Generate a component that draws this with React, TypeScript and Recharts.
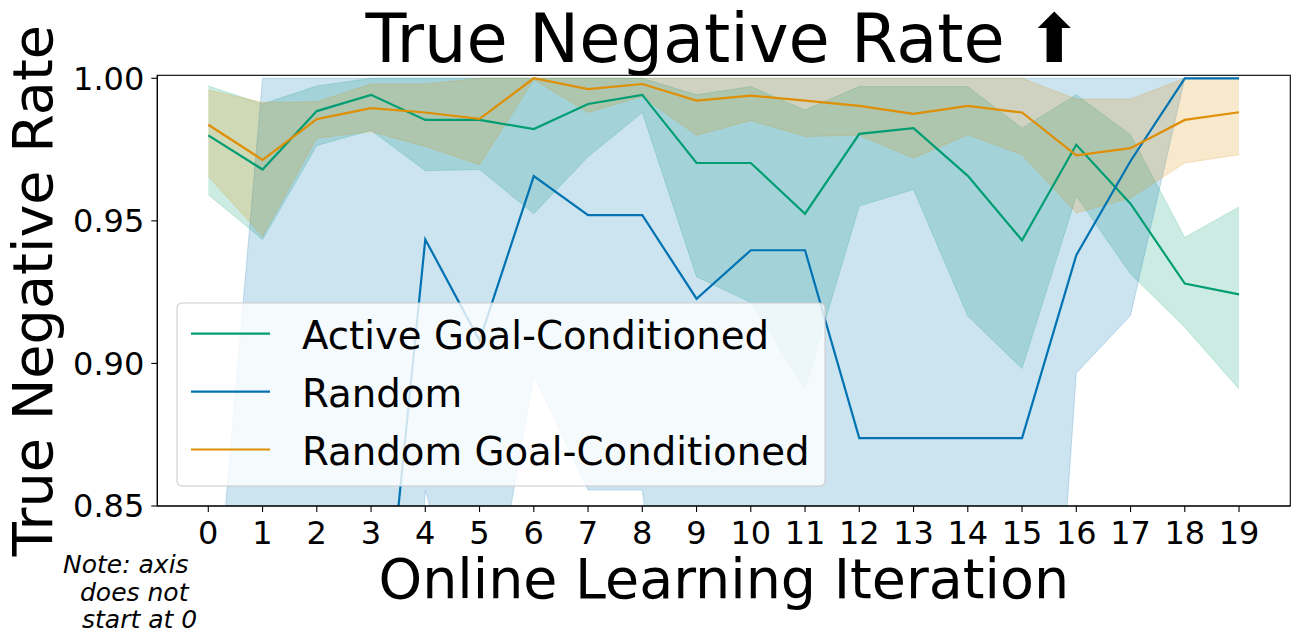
import { ComposedChart, Line, Area, XAxis, YAxis } from 'recharts';

// Online learning iterations (x categories)
const iterations = [0, 1, 2, 3, 4, 5, 6, 7, 8, 9, 10, 11, 12, 13, 14, 15, 16, 17, 18, 19];
const yTicks = [0.85, 0.9, 0.95, 1.0];

// Active Goal-Conditioned: mean and CI band
const activeMean = [0.98, 0.968, 0.9885, 0.9942, 0.9854, 0.9854, 0.9822, 0.991, 0.9942, 0.9703, 0.9703, 0.9525, 0.9805, 0.9825, 0.9658, 0.9432, 0.9767, 0.956, 0.928, 0.9242];
const activeLow = [0.9592, 0.9435, 0.9764, 0.9818, 0.9676, 0.968, 0.9525, 0.9725, 0.988, 0.9304, 0.9214, 0.8913, 0.9552, 0.961, 0.9166, 0.8982, 0.9587, 0.9314, 0.9127, 0.891];
const activeHigh = [0.9973, 0.991, 0.9973, 1.0, 1.0, 1.0, 1.0, 1.0, 1.0, 0.9942, 0.9971, 0.9889, 0.9971, 0.9971, 0.9971, 0.9825, 0.9942, 0.9802, 0.9442, 0.9549];

// Random: mean and CI band (early values sit below the visible range)
const randomMean = [0.62, 0.7, 0.72, 0.754, 0.9435, 0.908, 0.9657, 0.952, 0.952, 0.9227, 0.9397, 0.9397, 0.8738, 0.8738, 0.8738, 0.8738, 0.938, 0.971, 1.0, 1.0];
const randomLow = [0.45, 0.5, 0.55, 0.55, 0.8556, 0.787, 0.8958, 0.8556, 0.8556, 0.7, 0.72, 0.68, 0.6, 0.6, 0.6, 0.62, 0.8966, 0.9168, 1.0, 1.0];
const randomHigh = [0.78, 1.0, 1.0, 1.0, 1.0, 1.0, 1.0, 1.0, 1.0, 1.0, 1.0, 1.0, 1.0, 1.0, 1.0, 1.0, 1.0, 1.0, 1.0, 1.0];

// Random Goal-Conditioned: mean and CI band
const randomGCMean = [0.9837, 0.9714, 0.9857, 0.9895, 0.988, 0.9858, 1.0, 0.9962, 0.998, 0.9922, 0.9939, 0.9922, 0.9903, 0.9875, 0.9903, 0.988, 0.973, 0.9755, 0.9854, 0.9881];
const randomGCLow = [0.9656, 0.9446, 0.979, 0.9813, 0.9761, 0.9697, 0.9995, 0.988, 0.9936, 0.98, 0.9852, 0.9796, 0.98, 0.972, 0.9802, 0.9732, 0.9528, 0.958, 0.9703, 0.9732];
const randomGCHigh = [0.9959, 0.9915, 0.9918, 0.998, 0.998, 1.0, 1.0, 1.0, 1.0, 1.0, 1.0, 1.0, 1.0, 1.0, 1.0, 1.0, 0.9927, 0.9927, 1.0, 1.0];

const series = [
  { key: 'active', name: 'Active Goal-Conditioned', color: '#029E73', mean: activeMean, low: activeLow, high: activeHigh },
  { key: 'random', name: 'Random', color: '#0173B2', mean: randomMean, low: randomLow, high: randomHigh },
  { key: 'randomGC', name: 'Random Goal-Conditioned', color: '#DE8F05', mean: randomGCMean, low: randomGCLow, high: randomGCHigh },
];

const data = iterations.map((x, i) => {
  const row: Record<string, number | number[]> = { x };
  series.forEach((s) => {
    row[s.key] = s.mean[i];
    row[s.key + 'Band'] = [s.low[i], s.high[i]];
  });
  return row;
});

const W = 1299;
const H = 644;
// plot box, matplotlib-style
const PLOT = { left: 157.3, right: 1290.3, top: 75.3, bottom: 506 };
const FONT = '"DejaVu Sans", sans-serif';

export default function App() {
  const cx = (PLOT.left + PLOT.right) / 2;
  const cy = (PLOT.top + PLOT.bottom) / 2;
  const yAxisW = PLOT.left;
  const xAxisH = 40;

  return (
    <div style={{ position: 'absolute', left: 0, top: 0, width: W, height: H, background: '#fff' }}>
      <ComposedChart
        width={W}
        height={H}
        data={data}
        margin={{ top: PLOT.top, right: W - PLOT.right, bottom: H - PLOT.bottom - xAxisH, left: 0 }}
      >
        <XAxis
          dataKey="x"
          type="number"
          domain={[-0.94, 19.945]}
          ticks={iterations}
          interval={0}
          allowDataOverflow
          height={xAxisH}
          tickSize={6}
          tickMargin={9}
          axisLine={{ stroke: '#000', strokeWidth: 1.1 }}
          tickLine={{ stroke: '#000', strokeWidth: 1.1 }}
          tick={{ fill: '#000', fontSize: 32, fontFamily: FONT }}
        />
        <YAxis
          type="number"
          domain={[0.85, 1.00105]}
          ticks={yTicks}
          interval={0}
          allowDataOverflow
          width={yAxisW}
          tickSize={6}
          tickMargin={7}
          tickFormatter={(v: number) => v.toFixed(2)}
          axisLine={{ stroke: '#000', strokeWidth: 1.1 }}
          tickLine={{ stroke: '#000', strokeWidth: 1.1 }}
          tick={{ fill: '#000', fontSize: 32, fontFamily: FONT }}
        />
        {series.map((s) => (
          <Area
            key={s.key + 'Band'}
            type="linear"
            dataKey={s.key + 'Band'}
            fill={s.color}
            fillOpacity={0.2}
            stroke={s.color}
            strokeOpacity={0.2}
            strokeWidth={1}
            dot={false}
            activeDot={false}
            isAnimationActive={false}
          />
        ))}
        {series.map((s) => (
          <Line
            key={s.key}
            type="linear"
            dataKey={s.key}
            stroke={s.color}
            strokeWidth={2.2}
            dot={false}
            activeDot={false}
            isAnimationActive={false}
          />
        ))}
      </ComposedChart>

      <svg
        width={W}
        height={H}
        style={{ position: 'absolute', left: 0, top: 0, pointerEvents: 'none' }}
        fontFamily={FONT}
      >
        {/* box spines */}
        <rect
          x={PLOT.left}
          y={PLOT.top}
          width={PLOT.right - PLOT.left}
          height={PLOT.bottom - PLOT.top}
          fill="none"
          stroke="#000"
          strokeWidth={1.1}
        />

        {/* legend */}
        <rect x={177} y={303} width={648} height={183} rx={5} fill="#fff" fillOpacity={0.8} stroke="#cccccc" strokeWidth={1.1} />
        {series.map((s, i) => {
          const ry = 333.7 + i * 57.9;
          return (
            <g key={s.key}>
              <line x1={191} x2={270} y1={ry} y2={ry} stroke={s.color} strokeWidth={2.2} />
              <text x={302} y={ry + 15} fontSize={38.7} fill="#000">
                {s.name}
              </text>
            </g>
          );
        })}

        {/* titles */}
        <text x={cx} y={62} fontSize={67} textAnchor="middle" fill="#000">
          True Negative Rate ⬆
        </text>
        <text x={cx} y={598} fontSize={55.5} textAnchor="middle" fill="#000">
          Online Learning Iteration
        </text>
        <text x={52} y={cy} fontSize={55.7} textAnchor="middle" fill="#000" transform={`rotate(-90 52 ${cy})`}>
          True Negative Rate
        </text>

        {/* note */}
        <g fontSize={25} fontStyle="italic" fill="#000">
          <text x={63} y={573.3}>Note: axis</text>
          <text x={80} y={600.7}>does not</text>
          <text x={82} y={628.3}>start at 0</text>
        </g>
      </svg>
    </div>
  );
}
